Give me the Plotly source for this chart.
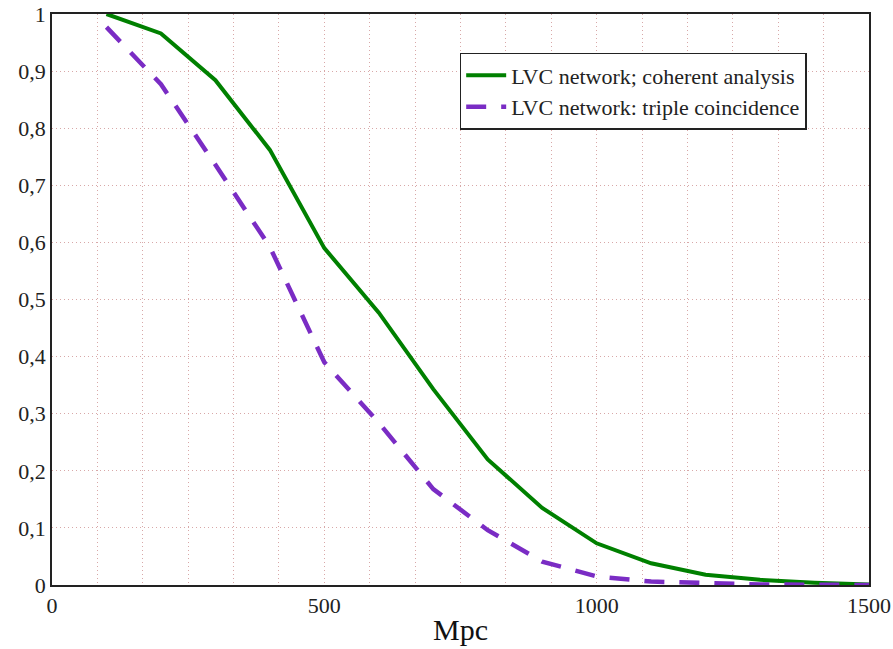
import plotly.graph_objects as go

distance_mpc = [100, 200, 300, 400, 500, 600, 700, 800, 900, 1000, 1100, 1200, 1300, 1400, 1500]
coherent = [1.0, 0.966, 0.884, 0.762, 0.590, 0.477, 0.343, 0.220, 0.135, 0.073, 0.038, 0.018, 0.009, 0.004, 0.001]
triple = [0.977, 0.877, 0.736, 0.592, 0.390, 0.284, 0.168, 0.096, 0.041, 0.015, 0.006, 0.003, 0.001, 0.0005, 0.0]

series_names = ["LVC network; coherent analysis", "LVC network: triple coincidence"]
x_ticks = [0, 500, 1000, 1500]
y_ticks = [0, 0.1, 0.2, 0.3, 0.4, 0.5, 0.6, 0.7, 0.8, 0.9, 1]

FONT = "Liberation Serif, serif"
GRID = "#d8a8a8"
GDASH = "1px,3px"

fig = go.Figure()
fig.add_trace(go.Scatter(x=distance_mpc, y=coherent, mode="lines", name=series_names[0],
                         line=dict(color="#008000", width=4)))
fig.add_trace(go.Scatter(x=distance_mpc, y=triple, mode="lines", name=series_names[1],
                         line=dict(color="#7a2cc4", width=4.5, dash="20px,15px")))

fig.update_layout(
    width=893, height=649,
    margin=dict(l=52, r=24, t=14, b=64),
    paper_bgcolor="white", plot_bgcolor="white",
    separators=", ",
    font=dict(family=FONT, size=21, color="#222"),
    showlegend=True,
    legend=dict(x=0.499, y=0.932, xanchor="left", yanchor="top",
                bgcolor="white", bordercolor="#222", borderwidth=1.5,
                font=dict(family=FONT, size=22, color="#222"),
                tracegroupgap=0, itemwidth=40),
    xaxis=dict(range=[0, 1500], tickvals=x_ticks, showgrid=True, automargin=False,
               gridcolor=GRID, griddash=GDASH, gridwidth=1,
               minor=dict(tick0=0, dtick=250/3, showgrid=True, gridcolor=GRID,
                          griddash=GDASH, gridwidth=1),
               showline=True, linecolor="#222", linewidth=1.5, mirror=True,
               ticks="", zeroline=False,
               title=dict(text="Mpc", font=dict(family=FONT, size=30, color="#111"), standoff=2),
               tickfont=dict(family=FONT, size=22, color="#222")),
    yaxis=dict(range=[0, 1], tickvals=y_ticks, showgrid=True, automargin=False,
               gridcolor=GRID, griddash=GDASH, gridwidth=1,
               showline=True, linecolor="#222", linewidth=1.5, mirror=True,
               ticks="", zeroline=False,
               tickfont=dict(family=FONT, size=22, color="#222")),
)

fig.write_html("out.html")
